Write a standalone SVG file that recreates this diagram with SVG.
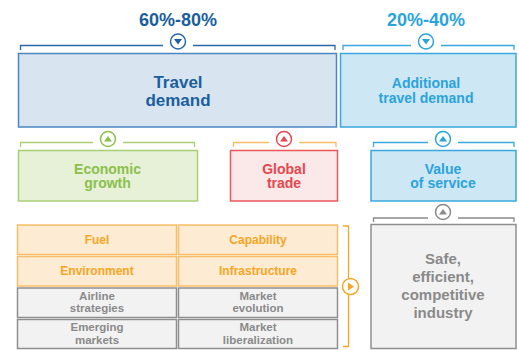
<svg xmlns="http://www.w3.org/2000/svg" width="519" height="350" viewBox="0 0 519 350">
<style>
text{font-family:"Liberation Sans",Arial,Helvetica,sans-serif;font-weight:bold;text-anchor:middle}
.br{fill:none;stroke-width:1.3}
.ci{fill:#fff;stroke-width:1.5}
.cell-o{fill:#fdebd3;stroke:#f8bd66;stroke-width:1.5}
.cell-g{fill:#f2f2f2;stroke:#8e8e8e;stroke-width:1.5}
.to{fill:#f5a623;font-size:12px}
.tg{fill:#8a8a8a;font-size:11.5px}
</style>
<rect width="519" height="350" fill="#fff"/>
<g id="connectors">
  <path class="br" stroke="#2a68a6" d="M20.5,50 V45.5 H163 M193,45.5 H335 V50"/>
  <circle class="ci" stroke="#2a68a6" cx="178" cy="41.5" r="7.5"/>
  <polygon fill="#1b5e9e" points="174,39 182,39 178,44.5"/>
  <path class="br" stroke="#3aa8de" d="M343,50 V45.5 H411 M441,45.5 H514 V50"/>
  <circle class="ci" stroke="#2ba3db" cx="426" cy="41.5" r="7.5"/>
  <polygon fill="#2ba3db" points="422,39 430,39 426,44.5"/>
  <path class="br" stroke="#a8cf74" d="M20.5,147 V142.5 H93 M123,142.5 H194.5 V147"/>
  <circle class="ci" stroke="#8cc04b" cx="108" cy="139" r="7.5"/>
  <polygon fill="#8cc04b" points="104,141.5 112,141.5 108,136"/>
  <path class="br" stroke="#f8bd66" d="M233.5,147 V142.5 H269 M299,142.5 H336 V147"/>
  <circle class="ci" stroke="#e5474f" cx="284" cy="139" r="7.5"/>
  <polygon fill="#e5474f" points="280,141.5 288,141.5 284,136"/>
  <path class="br" stroke="#3aa8de" d="M373.5,147 V142.5 H428 M458,142.5 H514 V147"/>
  <circle class="ci" stroke="#2ba3db" cx="443" cy="139" r="7.5"/>
  <polygon fill="#2ba3db" points="439,141.5 447,141.5 443,136"/>
  <path class="br" stroke="#8a8a8a" d="M373.5,222 V218 H428 M458,218 H514 V222"/>
  <circle class="ci" stroke="#8a8a8a" cx="443" cy="212" r="7.5"/>
  <polygon fill="#8a8a8a" points="439,214.5 447,214.5 443,209"/>
  <path class="br" stroke="#f5a623" d="M343,226 H348.5 V278 M348.5,295 V346.5 H343"/>
  <circle class="ci" stroke="#f5a623" cx="350.5" cy="286.5" r="8"/>
  <polygon fill="#f5a623" points="348,282.5 348,290.5 354,286.5"/>
</g>
<text x="178" y="26" font-size="18" fill="#1b5e9e">60%-80%</text>
<text x="426" y="26" font-size="18" fill="#2ba3db">20%-40%</text>
<g id="travel-demand">
  <rect x="18.5" y="53.5" width="318" height="73.5" fill="#d8e5f1" stroke="#4a86c0" stroke-width="1.5"/>
  <text x="178" y="87.5" font-size="17" fill="#1b5e9e">Travel</text>
  <text x="178" y="105.5" font-size="17" fill="#1b5e9e">demand</text>
</g>
<g id="additional-travel-demand">
  <rect x="340.5" y="53.5" width="175.5" height="73.5" fill="#cde7f4" stroke="#3aa8de" stroke-width="1.5"/>
  <text x="426" y="87.5" font-size="14" fill="#2ba3db">Additional</text>
  <text x="426" y="102.5" font-size="14" fill="#2ba3db">travel demand</text>
</g>
<g id="economic-growth">
  <rect x="18.5" y="150.5" width="179" height="50.5" fill="#e6f1d8" stroke="#a8cf74" stroke-width="1.5"/>
  <text x="107.5" y="173.5" font-size="14" fill="#8cc04b">Economic</text>
  <text x="107.5" y="188" font-size="14" fill="#8cc04b">growth</text>
</g>
<g id="global-trade">
  <rect x="230.5" y="150.5" width="107" height="50.5" fill="#fbe9e9" stroke="#e9575d" stroke-width="1.5"/>
  <text x="284" y="173.5" font-size="14" fill="#e5474f">Global</text>
  <text x="284" y="188" font-size="14" fill="#e5474f">trade</text>
</g>
<g id="value-of-service">
  <rect x="371" y="150.5" width="145" height="50.5" fill="#cde7f4" stroke="#3aa8de" stroke-width="1.5"/>
  <text x="443" y="173.5" font-size="14" fill="#2ba3db">Value</text>
  <text x="443" y="188" font-size="14" fill="#2ba3db">of service</text>
</g>
<g id="safe-industry">
  <rect x="371" y="224.5" width="145" height="124" fill="#f2f2f2" stroke="#8e8e8e" stroke-width="1.5"/>
  <text x="443" y="264" font-size="15" fill="#8a8a8a">Safe,</text>
  <text x="443" y="282" font-size="15" fill="#8a8a8a">efficient,</text>
  <text x="443" y="300" font-size="15" fill="#8a8a8a">competitive</text>
  <text x="443" y="318" font-size="15" fill="#8a8a8a">industry</text>
</g>
<g id="fuel"><rect class="cell-o" x="17.5" y="225" width="159" height="29.5"/><text class="to" x="97" y="243.5">Fuel</text></g>
<g id="capability"><rect class="cell-o" x="178.5" y="225" width="159" height="29.5"/><text class="to" x="258" y="243.5">Capability</text></g>
<g id="environment"><rect class="cell-o" x="17.5" y="256.5" width="159" height="29.5"/><text class="to" x="97" y="275">Environment</text></g>
<g id="infrastructure"><rect class="cell-o" x="178.5" y="256.5" width="159" height="29.5"/><text class="to" x="258" y="275">Infrastructure</text></g>
<g id="airline-strategies"><rect class="cell-g" x="17.5" y="288" width="159" height="29.5"/><text class="tg" x="97" y="299.5">Airline</text><text class="tg" x="97" y="312">strategies</text></g>
<g id="market-evolution"><rect class="cell-g" x="178.5" y="288" width="159" height="29.5"/><text class="tg" x="258" y="299.5">Market</text><text class="tg" x="258" y="312">evolution</text></g>
<g id="emerging-markets"><rect class="cell-g" x="17.5" y="319.5" width="159" height="29"/><text class="tg" x="97" y="331">Emerging</text><text class="tg" x="97" y="344">markets</text></g>
<g id="market-liberalization"><rect class="cell-g" x="178.5" y="319.5" width="159" height="29"/><text class="tg" x="258" y="331">Market</text><text class="tg" x="258" y="344">liberalization</text></g>
</svg>
